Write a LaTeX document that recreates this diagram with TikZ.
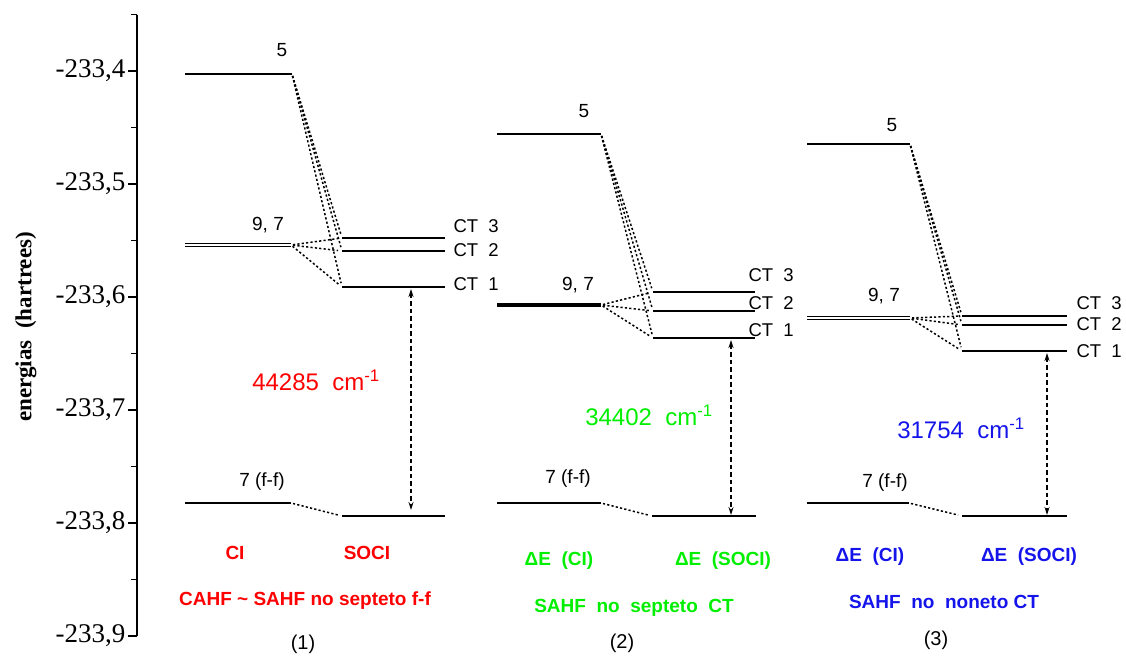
\documentclass[tikz,border=0pt]{standalone}
\usepackage{fontspec}
\setmainfont{Liberation Sans}
\newfontfamily\axisfont{Liberation Serif}
\usetikzlibrary{arrows.meta}
\definecolor{cired}{RGB}{255,0,0}
\definecolor{cigreen}{RGB}{0,238,0}
\definecolor{ciblue}{RGB}{20,20,235}

\begin{document}
\begin{tikzpicture}[x=1pt,y=-1pt,
  lvl/.style={line width=1.4pt},
  lvldbl/.style={line width=1.2pt,double,double distance=1.5pt},
  conn/.style={line width=1.5pt,dash pattern=on 2.2pt off 2.2pt,shorten <=2pt,shorten >=4pt},
  gaparrow/.style={line width=1.3pt,dash pattern=on 4.5pt off 3pt,
    {Stealth[length=8pt,width=5pt]}-{Stealth[length=8pt,width=5pt]}},
  lvlabel/.style={font=\fontsize{19}{22}\selectfont},
  ctlabel/.style={anchor=west,font=\fontsize{18.5}{20}\selectfont},
  gaplabel/.style={font=\fontsize{24}{28}\selectfont},
  methlabel/.style={font=\bfseries\fontsize{19}{22}\selectfont},
  panlabel/.style={font=\fontsize{20}{22}\selectfont}]
  \useasboundingbox (0,0) rectangle (1126,657);

  % energy axis
  \draw[line width=1.3pt] (137,14.5) -- (137,636);
  \foreach \k in {0,2,...,10}
    \draw[line width=1.3pt] (137,14.5+56.5*\k) -- (131,14.5+56.5*\k);
  \foreach \k/\val in {1/4,3/5,5/6,7/7,9/8,11/9}
    \draw[line width=1.3pt] (137,14.5+56.5*\k) -- (128,14.5+56.5*\k)
      node[anchor=east,font=\axisfont\fontsize{27}{30}\selectfont,inner sep=2pt] {-233,\val};
  \node[rotate=90,font=\axisfont\bfseries\fontsize{23}{26}\selectfont] (eaxis) at (26,327) {energias\ \ (hartrees)};

  % (1) CI / SOCI
  \coordinate (a5l) at (185,74);     \coordinate (a5r) at (292,74);
  \coordinate (a97l) at (185,245);   \coordinate (a97r) at (291,245);
  \coordinate (act3l) at (342,238);  \coordinate (act3r) at (445,238);
  \coordinate (act2l) at (342,251);  \coordinate (act2r) at (445,251);
  \coordinate (act1l) at (342,287);  \coordinate (act1r) at (445,287);
  \coordinate (affl) at (185,503);   \coordinate (affr) at (291,503);
  \coordinate (asol) at (342,516);   \coordinate (asor) at (445,516);
  \coordinate (atop) at (411,289);   \coordinate (abot) at (411,510);
  \draw[lvl] (a5l) -- (a5r);
  \draw[lvldbl] (a97l) -- (a97r);
  \draw[lvl] (act3l) -- (act3r);
  \draw[lvl] (act2l) -- (act2r);
  \draw[lvl] (act1l) -- (act1r);
  \draw[lvl] (affl) -- (affr);
  \draw[lvl] (asol) -- (asor);
  \foreach \c in {act3l,act2l,act1l} {
    \draw[conn] (a5r) -- (\c);
    \draw[conn] (a97r) -- (\c);
  }
  \draw[conn] (affr) -- (asol);
  \draw[gaparrow] (atop) -- (abot);
  \node[lvlabel] (a5t) at (282,50) {5};
  \node[lvlabel] (a97t) at (268,225) {9, 7};
  \node[lvlabel] (afft) at (262,482) {7 (f-f)};
  \node[ctlabel] (act3t) at (450,226) {CT\ \ 3};
  \node[ctlabel] (act2t) at (450,250) {CT\ \ 2};
  \node[ctlabel] (act1t) at (450,284) {CT\ \ 1};
  \node[gaplabel,text=cired] (agap) at (316,380) {44285\ \ cm\textsuperscript{-1}};
  \node[methlabel,text=cired] (aci) at (235,553) {CI};
  \node[methlabel,text=cired] (asoci) at (367,553) {SOCI};
  \node[methlabel,text=cired] (atitle) at (305,601) {CAHF \textasciitilde{} SAHF no septeto f-f};
  \node[panlabel] (anum) at (303,644) {(1)};

  % (2) SAHF septeto CT
  \coordinate (b5l) at (497,134);    \coordinate (b5r) at (601,134);
  \coordinate (b97l) at (497,305);   \coordinate (b97r) at (601,305);
  \coordinate (bct3l) at (653,292);  \coordinate (bct3r) at (755,292);
  \coordinate (bct2l) at (653,311);  \coordinate (bct2r) at (755,311);
  \coordinate (bct1l) at (653,338);  \coordinate (bct1r) at (755,338);
  \coordinate (bffl) at (497,503);   \coordinate (bffr) at (601,503);
  \coordinate (bsol) at (652,516);   \coordinate (bsor) at (756,516);
  \coordinate (btop) at (731,340);   \coordinate (bbot) at (731,515);
  \draw[lvl] (b5l) -- (b5r);
  \draw[line width=3.2pt] (b97l) -- (b97r);
  \draw[lvl] (bct3l) -- (bct3r);
  \draw[lvl] (bct2l) -- (bct2r);
  \draw[lvl] (bct1l) -- (bct1r);
  \draw[lvl] (bffl) -- (bffr);
  \draw[lvl] (bsol) -- (bsor);
  \foreach \c in {bct3l,bct2l,bct1l} {
    \draw[conn] (b5r) -- (\c);
    \draw[conn] (b97r) -- (\c);
  }
  \draw[conn] (bffr) -- (bsol);
  \draw[gaparrow] (btop) -- (bbot);
  \node[lvlabel] (b5t) at (584,111) {5};
  \node[lvlabel] (b97t) at (578,285) {9, 7};
  \node[lvlabel] (bfft) at (568,479) {7 (f-f)};
  \node[ctlabel] (bct3t) at (745,275) {CT\ \ 3};
  \node[ctlabel] (bct2t) at (745,303) {CT\ \ 2};
  \node[ctlabel] (bct1t) at (745,330) {CT\ \ 1};
  \node[gaplabel,text=cigreen] (bgap) at (649,415) {34402\ \ cm\textsuperscript{-1}};
  \node[methlabel,text=cigreen] (bci) at (559,561) {ΔE\ \ (CI)};
  \node[methlabel,text=cigreen] (bsoci) at (723,561) {ΔE\ \ (SOCI)};
  \node[methlabel,text=cigreen] (btitle) at (634,608) {SAHF\ \ no\ \ septeto\ \ CT};
  \node[panlabel] (bnum) at (622,643) {(2)};

  % (3) SAHF noneto CT
  \coordinate (c5l) at (807,144);    \coordinate (c5r) at (910,144);
  \coordinate (c97l) at (807,318);   \coordinate (c97r) at (910,318);
  \coordinate (cct3l) at (962,316);  \coordinate (cct3r) at (1067,316);
  \coordinate (cct2l) at (962,325);  \coordinate (cct2r) at (1067,325);
  \coordinate (cct1l) at (962,351);  \coordinate (cct1r) at (1067,351);
  \coordinate (cffl) at (807,503);   \coordinate (cffr) at (909,503);
  \coordinate (csol) at (962,516);   \coordinate (csor) at (1067,516);
  \coordinate (ctop) at (1047,353);  \coordinate (cbot) at (1047,515);
  \draw[lvl] (c5l) -- (c5r);
  \draw[lvldbl] (c97l) -- (c97r);
  \draw[lvl] (cct3l) -- (cct3r);
  \draw[lvl] (cct2l) -- (cct2r);
  \draw[lvl] (cct1l) -- (cct1r);
  \draw[lvl] (cffl) -- (cffr);
  \draw[lvl] (csol) -- (csor);
  \foreach \c in {cct3l,cct2l,cct1l} {
    \draw[conn] (c5r) -- (\c);
    \draw[conn] (c97r) -- (\c);
  }
  \draw[conn] (cffr) -- (csol);
  \draw[gaparrow] (ctop) -- (cbot);
  \node[lvlabel] (c5t) at (892,125) {5};
  \node[lvlabel] (c97t) at (884,296) {9, 7};
  \node[lvlabel] (cfft) at (885,483) {7 (f-f)};
  \node[ctlabel] (cct3t) at (1073,303) {CT\ \ 3};
  \node[ctlabel] (cct2t) at (1073,324) {CT\ \ 2};
  \node[ctlabel] (cct1t) at (1073,351) {CT\ \ 1};
  \node[gaplabel,text=ciblue] (cgap) at (961,428) {31754\ \ cm\textsuperscript{-1}};
  \node[methlabel,text=ciblue] (cci) at (870,557) {ΔE\ \ (CI)};
  \node[methlabel,text=ciblue] (csoci) at (1029,557) {ΔE\ \ (SOCI)};
  \node[methlabel,text=ciblue] (ctitle) at (944,602) {SAHF\ \ no\ \ noneto CT};
  \node[panlabel] (cnum) at (936,640) {(3)};
\end{tikzpicture}
\end{document}
